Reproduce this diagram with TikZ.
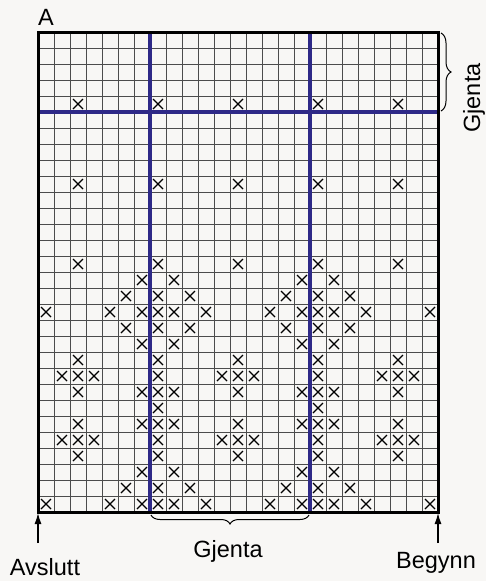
\documentclass[tikz,border=0pt]{standalone}
\usepackage{fontspec}
\setmainfont{Liberation Sans}
\usetikzlibrary{decorations.pathreplacing,arrows.meta}
\definecolor{bg}{RGB}{248,247,245}
\definecolor{repblue}{RGB}{46,41,135}
\tikzset{
  gridline/.style={draw=black!70, line width=1pt},
  bordline/.style={draw=black, line width=3pt},
  blueline/.style={draw=repblue, line width=3.2pt},
  crossline/.style={draw=black, line width=1.3pt},
  bracestyle/.style={draw=black, line width=1pt, decorate},
  label/.style={font=\fontsize{23.5}{28}\selectfont, inner sep=0pt},
  uparrow/.style={draw=black, line width=1.3pt, -{Latex[length=11pt,width=7pt]}}
}
\newcommand{\knitcross}[2]{%
  \draw[crossline] ({38+16*#1-8-5},{32+16*#2-8-5}) -- ({38+16*#1-8+5},{32+16*#2-8+5})
                   ({38+16*#1-8-5},{32+16*#2-8+5}) -- ({38+16*#1-8+5},{32+16*#2-8-5});}
\begin{document}
\begin{tikzpicture}[x=1pt,y=-1pt]
  \fill[bg] (0,0) rectangle (486,581);
  \useasboundingbox (0,0) rectangle (486,581);
  % grid
  \foreach \i in {1,...,24} \draw[gridline] ({38+16*\i},32) -- ({38+16*\i},512);
  \foreach \j in {1,...,29} \draw[gridline] (38,{32+16*\j}) -- (438,{32+16*\j});
  % repeat lines
  \draw[blueline] (150,32) -- (150,512);
  \draw[blueline] (310,32) -- (310,512);
  \draw[blueline] (38,112) -- (438,112);
  % crosses
  \foreach \r/\cols in {
     5/{3,8,13,18,23},
    10/{3,8,13,18,23},
    15/{3,8,13,18,23},
    16/{7,9,17,19},
    17/{6,8,10,16,18,20},
    18/{1,5,7,8,9,11,15,17,18,19,21,25},
    19/{6,8,10,16,18,20},
    20/{7,9,17,19},
    21/{3,8,13,18,23},
    22/{2,3,4,8,12,13,14,18,22,23,24},
    23/{3,7,8,9,13,17,18,19,23},
    24/{8,18},
    25/{3,7,8,9,13,17,18,19,23},
    26/{2,3,4,8,12,13,14,18,22,23,24},
    27/{3,8,13,18,23},
    28/{7,9,17,19},
    29/{6,8,10,16,18,20},
    30/{1,5,7,8,9,11,15,17,18,19,21,25}}
  { \foreach \c in \cols { \knitcross{\c}{\r} } }
  % border
  \draw[bordline] (38,32) rectangle (438,512);
  % braces
  \draw[bracestyle, decoration={brace, amplitude=10pt}] (441,33) -- (441,111);
  \draw[bracestyle, decoration={brace, amplitude=9pt}] (309,515) -- (151,515);
  % labels
  \node[label, anchor=base west] (a) at (38,25) {A};
  \node[label, rotate=90, anchor=center] (gjr) at (474,98) {Gjenta};
  \node[label, anchor=base] (gjb) at (228,557) {Gjenta};
  \node[label, anchor=base] (avs) at (45,575) {Avslutt};
  \node[label, anchor=base] (beg) at (436,568) {Begynn};
  % arrows
  \coordinate (lt) at (38,513);
  \coordinate (rt) at (438,513);
  \coordinate (lb) at (38,543);
  \coordinate (rb) at (438,543);
  \draw[uparrow] (lb) -- (lt);
  \draw[uparrow] (rb) -- (rt);
\end{tikzpicture}
\end{document}
